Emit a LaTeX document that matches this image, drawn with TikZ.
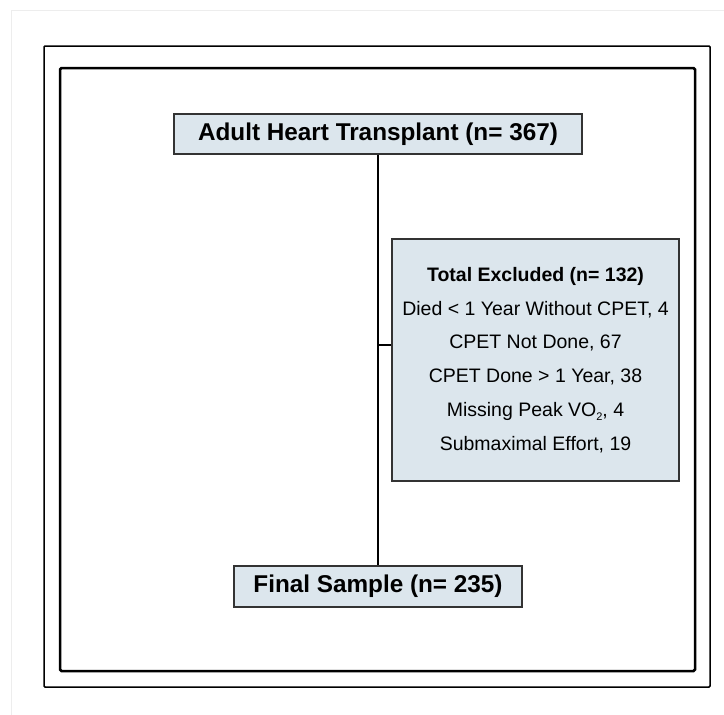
\documentclass[tikz,border=0pt]{standalone}
\usepackage{fontspec}
\setmainfont{Liberation Sans}
\definecolor{boxfill}{RGB}{220,230,237}
\newcommand{\lowtwo}{\raisebox{-0.35ex}{\fontsize{11}{11}\selectfont 2}}
\begin{document}
\begin{tikzpicture}[x=1pt,y=1pt]
	\tikzstyle{every node}+=[inner sep=0pt]
	\tikzstyle{flowbox}=[draw=black!80, line width=1.3pt, fill=boxfill]
	\tikzstyle{link}=[line width=2.2pt]
	\useasboundingbox (0,0) rectangle (724,-715);
	\draw [black!7, line width=1pt](11,-715) -- (11,-10) -- (724,-10);
	\draw [line width=1.5pt, rounded corners=1pt](44,-46) rectangle (710,-687);
	\draw [line width=2.5pt, rounded corners=1.5pt](60,-68) rectangle (695,-671);
	\node [flowbox, minimum width=408pt, minimum height=40pt, font=\fontsize{24.3}{28}\selectfont\bfseries](adult) at (378,-134) {Adult Heart Transplant (n= 367)};
	\node [flowbox, minimum width=287pt, minimum height=242pt, align=center, font=\fontsize{19.5}{33.8}\selectfont](excluded) at (535.5,-360) {\textbf{Total Excluded (n= 132)}\\Died < 1 Year Without CPET, 4\\CPET Not Done, 67\\CPET Done > 1 Year, 38\\Missing Peak VO\lowtwo, 4\\Submaximal Effort, 19};
	\node [flowbox, minimum width=288pt, minimum height=41pt, font=\fontsize{24.3}{28}\selectfont\bfseries](final) at (378,-586.5) {Final Sample (n= 235)};
	\draw [link](adult) -- (final);
	\coordinate (branch) at (378,-345);
	\draw [link](branch) -- (branch -| excluded.west);
\end{tikzpicture}
\end{document}
